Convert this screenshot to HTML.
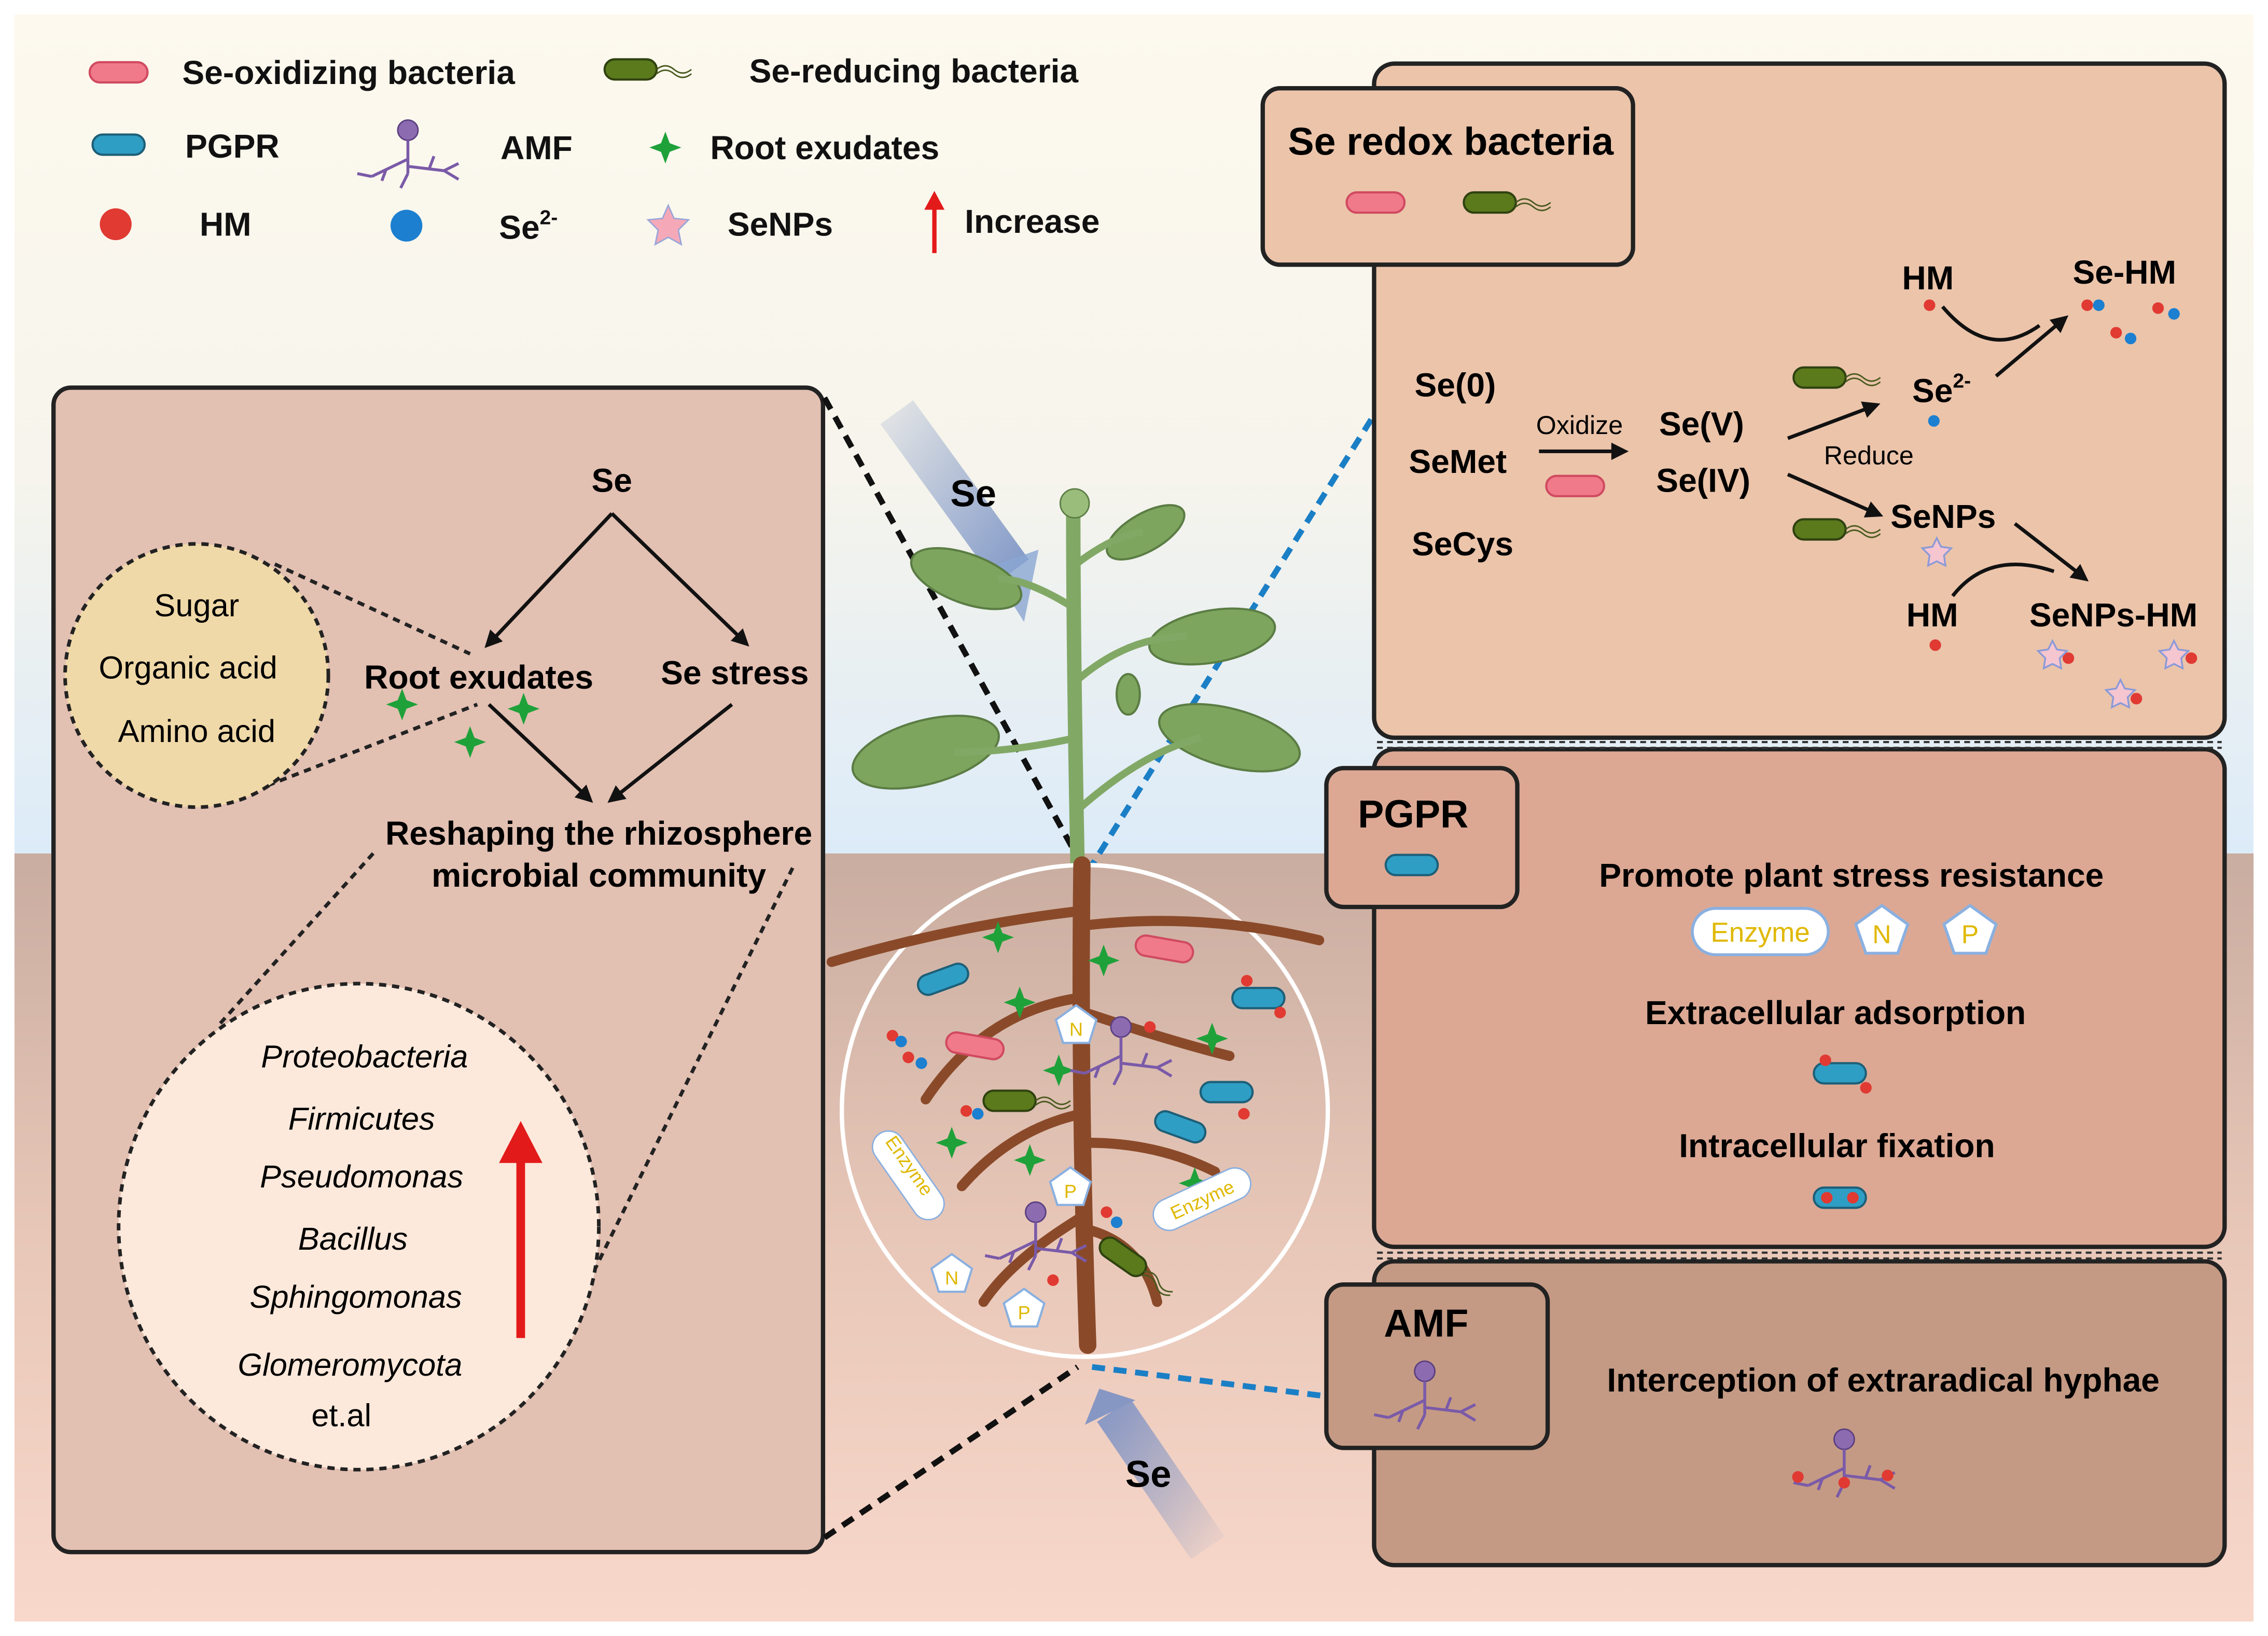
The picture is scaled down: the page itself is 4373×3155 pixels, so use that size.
<!DOCTYPE html>
<html><head><meta charset="utf-8"><style>
html,body{margin:0;padding:0;background:#fff}
svg{display:block}
text{font-family:"Liberation Sans",sans-serif}
</style></head><body>
<svg width="4373" height="3155" viewBox="0 0 1568 1131" preserveAspectRatio="none" xmlns="http://www.w3.org/2000/svg">
<defs>
<linearGradient id="sky" x1="0" y1="0" x2="0" y2="1">
<stop offset="0" stop-color="#fdf9ee"/><stop offset="0.55" stop-color="#f6f4ec"/><stop offset="1" stop-color="#dcebf8"/></linearGradient>
<linearGradient id="soil" x1="0" y1="0" x2="0" y2="1">
<stop offset="0" stop-color="#c9ada0"/><stop offset="0.5" stop-color="#e8c7b8"/><stop offset="1" stop-color="#f8d8cb"/></linearGradient>
<linearGradient id="arr" x1="0" y1="0" x2="1" y2="1">
<stop offset="0" stop-color="#7b93c4" stop-opacity="0.2"/><stop offset="1" stop-color="#7b93c4" stop-opacity="0.9"/></linearGradient>
<linearGradient id="arr2" x1="1" y1="1" x2="0" y2="0">
<stop offset="0" stop-color="#7b93c4" stop-opacity="0.1"/><stop offset="1" stop-color="#8797c4" stop-opacity="0.95"/></linearGradient>
<g id="pgpr"><rect x="-18" y="-7" width="36" height="14" rx="7" fill="#2f9ec4" stroke="#1d5f78" stroke-width="1.5"/></g>
<g id="oxb"><rect x="-20" y="-7" width="40" height="14" rx="7" fill="#f07a8a" stroke="#d04a60" stroke-width="1.5"/></g>
<g id="redb"><rect x="-20" y="-7" width="36" height="14" rx="7" fill="#5b7a1c" stroke="#2f4210" stroke-width="1.5"/><path d="M16,0 q6,-5 12,0 t12,0 M16,3 q6,-5 12,0 t12,0" fill="none" stroke="#4a5a20" stroke-width="1"/></g>
<g id="star4"><path d="M0,-11 L3,-3 L11,0 L3,3 L0,11 L-3,3 L-11,0 L-3,-3 z" fill="#1fa13a"/></g>
<g id="amf"><circle cx="0" cy="-20" r="7" fill="#8d6bb1" stroke="#5b3f80"/><path d="M0,-13 L0,10 M0,0 L-25,12 M-25,12 L-35,10 M-15,7 L-18,15 M0,5 L25,8 M25,8 L35,3 M25,8 L35,14 M15,6 L18,-2 M0,10 L-5,20" stroke="#7a5aa8" stroke-width="2" fill="none"/></g>
</defs>
<rect width="1568" height="1131" fill="#fff"/>
<rect x="10" y="10" width="1548" height="580" fill="url(#sky)"/>
<rect x="10" y="590" width="1548" height="531" fill="url(#soil)"/>

<!-- legend -->
<use href="#oxb" x="82" y="50"/>
<text x="126" y="58" font-size="23" font-weight="bold" fill="#111">Se-oxidizing bacteria</text>
<use href="#redb" x="438" y="48"/>
<text x="518" y="57" font-size="23" font-weight="bold" fill="#111">Se-reducing bacteria</text>
<use href="#pgpr" x="82" y="100"/>
<text x="128" y="109" font-size="23" font-weight="bold" fill="#111">PGPR</text>
<use href="#amf" x="282" y="110"/>
<text x="346" y="110" font-size="23" font-weight="bold" fill="#111">AMF</text>
<use href="#star4" x="460" y="102"/>
<text x="491" y="110" font-size="23" font-weight="bold" fill="#111">Root exudates</text>
<circle cx="80" cy="155" r="11" fill="#e03a32"/>
<text x="138" y="163" font-size="23" font-weight="bold" fill="#111">HM</text>
<circle cx="281" cy="156" r="11" fill="#1c7fd0"/>
<text x="345" y="165" font-size="23" font-weight="bold" fill="#111">Se<tspan font-size="14" dy="-10">2-</tspan></text>
<path d="M462,142 l4,9 10,1 -7,7 2,10 -9,-5 -9,5 2,-10 -7,-7 10,-1z" fill="#f5a9b8" stroke="#9aa6d8"/>
<text x="503" y="163" font-size="23" font-weight="bold" fill="#111">SeNPs</text>
<path d="M646,175 V140" stroke="#e31a1a" stroke-width="3"/><path d="M639,145 L646,132 L653,145z" fill="#e31a1a"/>
<text x="667" y="161" font-size="23" font-weight="bold" fill="#111">Increase</text>

<!-- left panel -->
<rect x="37" y="268" width="532" height="805" rx="12" fill="#e2c0b2" stroke="#222" stroke-width="3"/>
<text x="423" y="340" font-size="23" font-weight="bold" text-anchor="middle">Se</text>
<path d="M423,355 L338,445 M423,355 L514,443" stroke="#111" stroke-width="2.5" fill="none"/>
<text x="331" y="476" font-size="23" font-weight="bold" text-anchor="middle">Root exudates</text>
<text x="508" y="473" font-size="23" font-weight="bold" text-anchor="middle">Se stress</text>
<use href="#star4" x="278" y="487"/><use href="#star4" x="362" y="490"/><use href="#star4" x="325" y="513"/>
<path d="M338,487 L406,551 M506,487 L424,552" stroke="#111" stroke-width="2.5" fill="none"/>
<g fill="#111">
<polygon points="335,448 338.9,435.2 347.6,443.4"/>
<polygon points="518,447 505.2,443 513.6,434.4"/>
<polygon points="410,555 397.2,551.2 405.4,542.4"/>
<polygon points="420,555 425.7,542.9 433.1,552.3"/>
</g>
<text x="414" y="584" font-size="23" font-weight="bold" text-anchor="middle">Reshaping the rhizosphere</text>
<text x="414" y="613" font-size="23" font-weight="bold" text-anchor="middle">microbial community</text>
<path d="M190,390 L325,452 M185,543 L330,487" stroke="#222" stroke-width="2.5" stroke-dasharray="5,4"/>
<circle cx="136" cy="467" r="91" fill="#f0d9a8" stroke="#222" stroke-width="2.5" stroke-dasharray="5,4"/>
<text x="136" y="426" font-size="22" text-anchor="middle">Sugar</text>
<text x="130" y="469" font-size="22" text-anchor="middle">Organic acid</text>
<text x="136" y="513" font-size="22" text-anchor="middle">Amino acid</text>
<path d="M258,590 L150,710 M548,600 L410,880" stroke="#222" stroke-width="2.5" stroke-dasharray="5,4"/>
<ellipse cx="248" cy="848" rx="166" ry="168" fill="#fde9db" stroke="#222" stroke-width="2.5" stroke-dasharray="5,4"/>
<g font-size="22" font-style="italic" text-anchor="middle">
<text x="252" y="738">Proteobacteria</text><text x="250" y="781">Firmicutes</text><text x="250" y="821">Pseudomonas</text>
<text x="244" y="864">Bacillus</text><text x="246" y="904">Sphingomonas</text><text x="242" y="951">Glomeromycota</text>
<text x="236" y="986" font-style="normal">et.al</text></g>
<path d="M360,925 V800" stroke="#e31a1a" stroke-width="6"/><path d="M345,804 L360,775 L375,804z" fill="#e31a1a"/>

<!-- plant & connectors -->
<path d="M620,285 L700,395" stroke="url(#arr)" stroke-width="28"/>
<path d="M684,392 L708,430 L718,380z" fill="#8aa6d2" opacity="0.8"/>
<text x="657" y="350" font-size="26" font-weight="bold">Se</text>
<path d="M570,275 L748,598" stroke="#111" stroke-width="4" stroke-dasharray="9,6"/>
<path d="M948,290 L755,598" stroke="#1b7fc6" stroke-width="4" stroke-dasharray="9,6"/>
<path d="M570,1063 L745,945" stroke="#111" stroke-width="4" stroke-dasharray="9,6"/>
<path d="M755,945 L915,965" stroke="#1b7fc6" stroke-width="4" stroke-dasharray="9,6"/>
<path d="M745,600 Q742,450 742,350" stroke="#82a866" stroke-width="10" fill="none"/>
<g fill="#7ea55e" stroke="#5b7d44" stroke-width="1.5">
<ellipse cx="668" cy="400" rx="40" ry="17" transform="rotate(20 668 400)"/>
<ellipse cx="640" cy="520" rx="52" ry="22" transform="rotate(-15 640 520)"/>
<ellipse cx="838" cy="440" rx="44" ry="18" transform="rotate(-10 838 440)"/>
<ellipse cx="850" cy="510" rx="50" ry="20" transform="rotate(15 850 510)"/>
<ellipse cx="792" cy="368" rx="30" ry="13" transform="rotate(-30 792 368)"/>
<ellipse cx="780" cy="480" rx="8" ry="14"/>
</g>
<path d="M742,420 Q710,400 690,400 M745,470 Q780,440 820,440 M745,560 Q790,520 830,510 M744,510 Q700,520 660,520 M744,390 Q770,370 790,368" stroke="#82a866" stroke-width="5" fill="none"/>
<circle cx="743" cy="348" r="10" fill="#9bbd7c" stroke="#5b7d44"/>
<ellipse cx="750" cy="768" rx="168" ry="170" fill="none" stroke="#fff" stroke-width="3"/>
<g stroke="#8a4a2a" fill="none" stroke-linecap="round">
<path d="M748,598 Q746,760 752,930" stroke-width="12"/>
<path d="M745,630 Q660,640 575,665 M748,640 Q830,630 912,650 M745,690 Q680,700 640,760 M750,700 Q810,720 850,730 M748,770 Q700,780 665,820 M752,790 Q800,790 840,810 M750,840 Q700,870 680,900 M752,850 Q790,860 800,900" stroke-width="7"/>
</g>
<g>
<use href="#pgpr" x="652" y="677" transform="rotate(-20 652 677)"/><use href="#oxb" x="805" y="656" transform="rotate(10 805 656)"/>
<use href="#pgpr" x="870" y="690"/><use href="#oxb" x="674" y="723" transform="rotate(10 674 723)"/>
<use href="#pgpr" x="848" y="755"/><use href="#pgpr" x="816" y="779" transform="rotate(20 816 779)"/>
<use href="#redb" x="700" y="761"/><use href="#redb" x="778" y="870" transform="rotate(35 778 870)"/>
<use href="#star4" x="690" y="648"/><use href="#star4" x="763" y="664"/><use href="#star4" x="705" y="693"/><use href="#star4" x="838" y="718"/><use href="#star4" x="732" y="740"/><use href="#star4" x="658" y="790"/><use href="#star4" x="712" y="802"/><use href="#star4" x="826" y="818"/>
<use href="#amf" x="775" y="730"/><use href="#amf" x="716" y="858"/>
<rect x="600" y="800" width="70" height="22" rx="11" fill="#fff" stroke="#8ab0e0" transform="rotate(55 630 805)"/>
<text x="630" y="811" font-size="13" fill="#e0b800" text-anchor="middle" transform="rotate(55 630 805)">Enzyme</text>
<rect x="795" y="818" width="72" height="22" rx="11" fill="#fff" stroke="#8ab0e0" transform="rotate(-25 831 829)"/>
<text x="831" y="834" font-size="13" fill="#e0b800" text-anchor="middle" transform="rotate(-25 831 829)">Enzyme</text>
<g fill="#fff" stroke="#8ab0e0" stroke-width="1.5">
<path d="M744,695 l14,10 -5,16 -18,0 -5,-16z"/><path d="M740,807 l14,10 -5,16 -18,0 -5,-16z"/>
<path d="M658,867 l14,10 -5,16 -18,0 -5,-16z"/><path d="M708,891 l14,10 -5,16 -18,0 -5,-16z"/></g>
<g font-size="13" fill="#e0b800" text-anchor="middle"><text x="744" y="716">N</text><text x="740" y="828">P</text><text x="658" y="888">N</text><text x="708" y="912">P</text></g>
<g fill="#e03a32"><circle cx="617" cy="716" r="4"/><circle cx="628" cy="731" r="4"/><circle cx="668" cy="768" r="4"/><circle cx="795" cy="710" r="4"/><circle cx="765" cy="838" r="4"/><circle cx="728" cy="885" r="4"/><circle cx="862" cy="678" r="4"/><circle cx="885" cy="700" r="4"/><circle cx="860" cy="770" r="4"/></g>
<g fill="#1c7fd0"><circle cx="623" cy="720" r="4"/><circle cx="637" cy="735" r="4"/><circle cx="676" cy="770" r="4"/><circle cx="772" cy="845" r="4"/></g>
</g>
<path d="M835,1070 L770,975" stroke="url(#arr2)" stroke-width="28"/>
<path d="M750,985 L760,960 L785,968z" fill="#8797c4"/>
<text x="778" y="1028" font-size="26" font-weight="bold">Se</text>

<!-- right panels -->
<rect x="950" y="44" width="588" height="466" rx="14" fill="#ebc4aa" stroke="#222" stroke-width="3"/>
<rect x="950" y="518" width="588" height="344" rx="14" fill="#dca894" stroke="#222" stroke-width="3"/>
<rect x="950" y="872" width="588" height="210" rx="14" fill="#c49a84" stroke="#222" stroke-width="3"/>
<path d="M952,513 H1536 M952,517 H1536 M952,866 H1536 M952,870 H1536" stroke="#333" stroke-width="1.5" stroke-dasharray="4,3"/>

<rect x="873" y="61" width="256" height="122" rx="12" fill="#ebc4aa" stroke="#222" stroke-width="3"/>
<text x="1003" y="107" font-size="27" font-weight="bold" text-anchor="middle">Se redox bacteria</text>
<use href="#oxb" x="951" y="140"/><use href="#redb" x="1032" y="140"/>
<g font-size="23" font-weight="bold"><text x="978" y="274">Se(0)</text><text x="974" y="327">SeMet</text><text x="976" y="384">SeCys</text>
<text x="1147" y="301">Se(V)</text><text x="1145" y="340">Se(IV)</text>
<text x="1315" y="200">HM</text><text x="1433" y="196">Se-HM</text><text x="1322" y="278">Se<tspan font-size="14" dy="-10">2-</tspan></text>
<text x="1307" y="365">SeNPs</text><text x="1318" y="433">HM</text><text x="1403" y="433">SeNPs-HM</text></g>
<text x="1062" y="300" font-size="18">Oxidize</text><text x="1261" y="321" font-size="18">Reduce</text>
<path d="M1064,312 H1118 M1236,303 L1292,282 M1236,328 L1295,354 M1380,260 L1424,223 M1393,362 L1438,397" stroke="#111" stroke-width="2.5" fill="none"/>
<g fill="#111">
<polygon points="1126,312 1114,306 1114,318"/>
<polygon points="1300,279 1290.8,288.8 1286.6,277.6"/>
<polygon points="1302,357 1288.6,357.7 1293.4,346.7"/>
<polygon points="1430,218 1424.6,230.3 1417,221.1"/>
<polygon points="1444,402 1430.8,399.3 1438.2,389.9"/>
</g>
<use href="#oxb" x="1089" y="336"/>
<path d="M1343,212 Q1375,250 1410,225 M1350,412 Q1375,380 1420,395" stroke="#111" stroke-width="2.5" fill="none"/>
<use href="#redb" x="1260" y="261"/><use href="#redb" x="1260" y="366"/>
<g fill="#e03a32"><circle cx="1334" cy="211" r="4"/><circle cx="1443" cy="211" r="4"/><circle cx="1492" cy="213" r="4"/><circle cx="1463" cy="230" r="4"/><circle cx="1338" cy="446" r="4"/><circle cx="1430" cy="455" r="4"/><circle cx="1515" cy="455" r="4"/><circle cx="1477" cy="483" r="4"/></g>
<g fill="#1c7fd0"><circle cx="1451" cy="211" r="4"/><circle cx="1503" cy="217" r="4"/><circle cx="1473" cy="234" r="4"/><circle cx="1337" cy="291" r="4"/></g>
<g fill="#f5c5d0" stroke="#8a9ad8" stroke-width="1.2">
<path d="M1339,372 l3,6 7,1 -5,5 1,7 -6,-3 -6,3 1,-7 -5,-5 7,-1z"/><path d="M1419,443 l3,6 7,1 -5,5 1,7 -6,-3 -6,3 1,-7 -5,-5 7,-1z"/>
<path d="M1503,443 l3,6 7,1 -5,5 1,7 -6,-3 -6,3 1,-7 -5,-5 7,-1z"/><path d="M1466,470 l3,6 7,1 -5,5 1,7 -6,-3 -6,3 1,-7 -5,-5 7,-1z"/></g>

<rect x="917" y="531" width="132" height="96" rx="12" fill="#dca894" stroke="#222" stroke-width="3"/>
<text x="977" y="572" font-size="27" font-weight="bold" text-anchor="middle">PGPR</text>
<use href="#pgpr" x="976" y="598"/>
<text x="1280" y="613" font-size="23" font-weight="bold" text-anchor="middle">Promote plant stress resistance</text>
<rect x="1170" y="628" width="94" height="32" rx="16" fill="#fff" stroke="#8ab0e0" stroke-width="2"/>
<text x="1217" y="651" font-size="19" fill="#e0b800" text-anchor="middle">Enzyme</text>
<path d="M1301,626 l18,13 -7,20 -22,0 -7,-20z" fill="#fff" stroke="#8ab0e0" stroke-width="2"/>
<path d="M1362,626 l18,13 -7,20 -22,0 -7,-20z" fill="#fff" stroke="#8ab0e0" stroke-width="2"/>
<text x="1301" y="652" font-size="18" fill="#e0b800" text-anchor="middle">N</text><text x="1362" y="652" font-size="18" fill="#e0b800" text-anchor="middle">P</text>
<text x="1269" y="708" font-size="23" font-weight="bold" text-anchor="middle">Extracellular adsorption</text>
<use href="#pgpr" x="1272" y="742"/><circle cx="1262" cy="733" r="4" fill="#e03a32"/><circle cx="1290" cy="752" r="4" fill="#e03a32"/>
<text x="1270" y="800" font-size="23" font-weight="bold" text-anchor="middle">Intracellular fixation</text>
<use href="#pgpr" x="1272" y="828"/><circle cx="1263" cy="828" r="4" fill="#e03a32"/><circle cx="1281" cy="828" r="4" fill="#e03a32"/>

<rect x="917" y="888" width="153" height="113" rx="12" fill="#c49a84" stroke="#222" stroke-width="3"/>
<text x="986" y="924" font-size="27" font-weight="bold" text-anchor="middle">AMF</text>
<use href="#amf" x="985" y="968"/>
<text x="1302" y="962" font-size="23" font-weight="bold" text-anchor="middle">Interception of extraradical hyphae</text>
<use href="#amf" x="1275" y="1015"/>
<g fill="#e03a32"><circle cx="1243" cy="1021" r="4"/><circle cx="1275" cy="1025" r="4"/><circle cx="1305" cy="1020" r="4"/></g>
</svg>
</body></html>
